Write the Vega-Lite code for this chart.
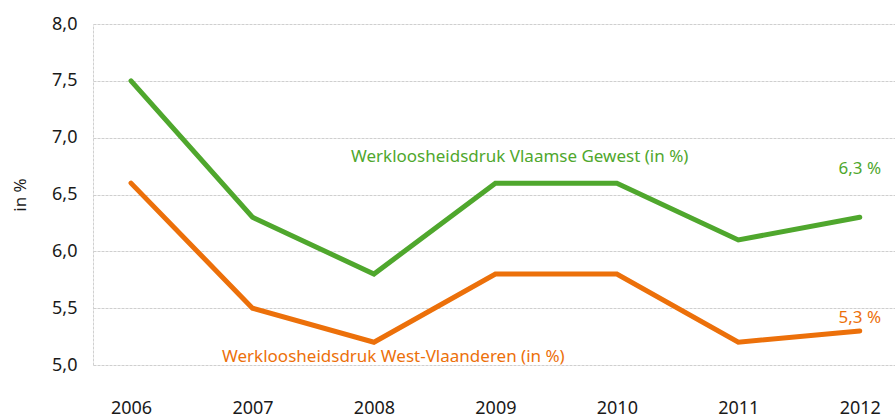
{
  "$schema": "https://vega.github.io/schema/vega-lite/v6.json",
  "width": 802,
  "height": 341,
  "autosize": "none",
  "padding": {"left": 93, "top": 24, "right": 0, "bottom": 54},
  "background": "white",
  "config": {"view": {"stroke": null}, "font": "Noto Sans"},
  "datasets": {
    "lines": [
      {"year": 2006, "value": 7.5, "series": "Vlaamse Gewest"},
      {"year": 2007, "value": 6.3, "series": "Vlaamse Gewest"},
      {"year": 2008, "value": 5.8, "series": "Vlaamse Gewest"},
      {"year": 2009, "value": 6.6, "series": "Vlaamse Gewest"},
      {"year": 2010, "value": 6.6, "series": "Vlaamse Gewest"},
      {"year": 2011, "value": 6.1, "series": "Vlaamse Gewest"},
      {"year": 2012, "value": 6.3, "series": "Vlaamse Gewest"},
      {"year": 2006, "value": 6.6, "series": "West-Vlaanderen"},
      {"year": 2007, "value": 5.5, "series": "West-Vlaanderen"},
      {"year": 2008, "value": 5.2, "series": "West-Vlaanderen"},
      {"year": 2009, "value": 5.8, "series": "West-Vlaanderen"},
      {"year": 2010, "value": 5.8, "series": "West-Vlaanderen"},
      {"year": 2011, "value": 5.2, "series": "West-Vlaanderen"},
      {"year": 2012, "value": 5.3, "series": "West-Vlaanderen"}
    ],
    "labels": [
      {"x": 2009.2, "y": 6.83, "text": "Werkloosheidsdruk Vlaamse Gewest (in %)", "series": "Vlaamse Gewest"},
      {"x": 2008.16, "y": 5.07, "text": "Werkloosheidsdruk West-Vlaanderen (in %)", "series": "West-Vlaanderen"},
      {"x": 2012, "y": 6.72, "text": "6,3 %", "series": "Vlaamse Gewest"},
      {"x": 2012, "y": 5.41, "text": "5,3 %", "series": "West-Vlaanderen"}
    ]
  },
  "layer": [
    {
      "data": {"name": "lines"},
      "mark": {"type": "line", "strokeWidth": 5, "strokeJoin": "miter", "strokeCap": "round"},
      "encoding": {
        "x": {
          "field": "year", "type": "quantitative",
          "scale": {"domain": [2005.687, 2012.29], "nice": false, "zero": false},
          "axis": {
            "title": null, "values": [2006, 2007, 2008, 2009, 2010, 2011, 2012], "format": "d",
            "grid": false, "domain": false, "ticks": false,
            "labelPadding": 34, "labelFontSize": 18, "labelColor": "#1a1a1a", "labelFont": "Noto Sans"
          }
        },
        "y": {
          "field": "value", "type": "quantitative",
          "scale": {"domain": [5, 8], "nice": false, "zero": false},
          "axis": {
            "title": "in %", "titleFontSize": 17, "titleFontWeight": "normal", "titleColor": "#1a1a1a", "titlePadding": 22,
            "values": [5, 5.25, 5.5, 5.75, 6, 6.25, 6.5, 6.75, 7, 7.25, 7.5, 7.75, 8],
            "labelExpr": "(datum.value * 2) % 1 == 0 ? replace(format(datum.value, '.1f'), '.', ',') : ''",
            "labelFontSize": 18, "labelColor": "#1a1a1a", "labelPadding": 16,
            "ticks": false, "domain": true, "domainColor": "#d0d0d0", "domainDash": [3, 1],
            "grid": true, "gridColor": "#cfcfcf", "gridDash": [3, 1], "gridWidth": 1
          }
        },
        "color": {
          "field": "series", "type": "nominal",
          "scale": {"domain": ["Vlaamse Gewest", "West-Vlaanderen"], "range": ["#4fa72d", "#ec700a"]},
          "legend": null
        }
      }
    },
    {
      "data": {"name": "labels"},
      "mark": {"type": "text", "fontSize": 17, "align": "center", "baseline": "middle"},
      "encoding": {
        "x": {"field": "x", "type": "quantitative"},
        "y": {"field": "y", "type": "quantitative"},
        "text": {"field": "text"},
        "color": {
          "field": "series", "type": "nominal",
          "scale": {"domain": ["Vlaamse Gewest", "West-Vlaanderen"], "range": ["#4fa72d", "#ec700a"]},
          "legend": null
        }
      }
    }
  ],
  "resolve": {"scale": {"color": "independent"}}
}
